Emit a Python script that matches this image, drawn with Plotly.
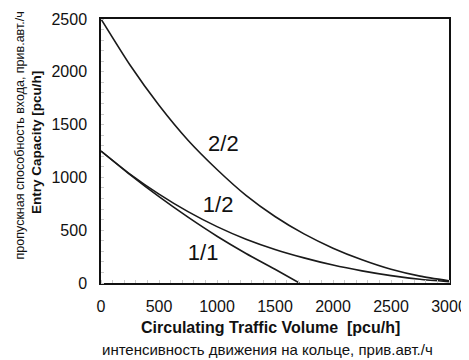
import plotly.graph_objects as go

# Circulating traffic volume [pcu/h]
x_22 = [0, 250, 500, 750, 1000, 1250, 1500, 1750, 2000, 2250, 2500, 2750, 3000]
cap_22 = [2500, 2064, 1683, 1352, 1075, 830, 630, 465, 330, 220, 130, 65, 20]

x_12 = [0, 250, 500, 750, 1000, 1250, 1500, 1750, 2000, 2250, 2500, 2750, 3000]
cap_12 = [1250, 1032, 842, 676, 534, 415, 318, 238, 170, 115, 70, 35, 12]

x_11 = [0, 250, 500, 750, 1000, 1250, 1500, 1710]
cap_11 = [1250, 1026, 817, 623, 443, 280, 130, 0]

labels = ["2/2", "1/2", "1/1"]
label_x = [1055, 1010, 880]
label_y = [1300, 722, 266]

x_ticks = [0, 500, 1000, 1500, 2000, 2500, 3000]
y_ticks = [0, 500, 1000, 1500, 2000, 2500]

FONT = "Liberation Sans, Arial"

fig = go.Figure()
for xs, ys in [(x_22, cap_22), (x_12, cap_12), (x_11, cap_11)]:
    fig.add_trace(go.Scatter(x=xs, y=ys, mode="lines",
                             line=dict(color="#1a1a1a", width=1.6, shape="spline", smoothing=0.6),
                             showlegend=False, hoverinfo="skip"))

fig.add_trace(go.Scatter(x=label_x, y=label_y, mode="text", text=labels,
                         textfont=dict(family=FONT, size=22, color="#111"),
                         showlegend=False, hoverinfo="skip"))

axis_common = dict(showline=True, linecolor="#111", linewidth=1.5, mirror=True, showgrid=False, zeroline=False,
                   ticks="", automargin=False, tickfont=dict(family=FONT, size=16, color="#111"))

fig.update_xaxes(range=[0, 3000], tickvals=x_ticks, ticktext=[str(v) for v in x_ticks],
                 ticklabelstandoff=8,
                 minor=dict(dtick=100, ticks="inside", ticklen=3, tickcolor="#cccccc", showgrid=False),
                 **axis_common)
fig.update_yaxes(range=[0, 2500], tickvals=y_ticks, ticktext=[str(v) for v in y_ticks],
                 ticklabelstandoff=9,
                 minor=dict(dtick=100, ticks="inside", ticklen=3, tickcolor="#cccccc", showgrid=False),
                 **axis_common)

annotations = [
    dict(text="<b>Circulating Traffic Volume  [pcu/h]</b>", x=0.486, y=-0.167,
         font=dict(family=FONT, size=16, color="#111"), textangle=0),
    dict(text="интенсивность движения на кольце, прив.авт./ч", x=0.478, y=-0.25,
         font=dict(family=FONT, size=15, color="#111"), textangle=0),
    dict(text="<b>Entry Capacity [pcu/h]</b>", x=-0.187, y=0.534,
         font=dict(family=FONT, size=13.5, color="#111"), textangle=-90),
    dict(text="пропускная способность входа, прив.авт./ч", x=-0.232, y=0.56,
         font=dict(family=FONT, size=12.5, color="#111"), textangle=-90),
]
for a in annotations:
    a.update(xref="paper", yref="paper", showarrow=False, xanchor="center", yanchor="middle")

# page body adds an 8px offset, so the figure is drawn 8px smaller and shifted
fig.update_layout(width=461, height=352, margin=dict(l=93, r=20, t=11, b=77),
                  paper_bgcolor="white", plot_bgcolor="white", annotations=annotations)

fig.write_html("out.html")
